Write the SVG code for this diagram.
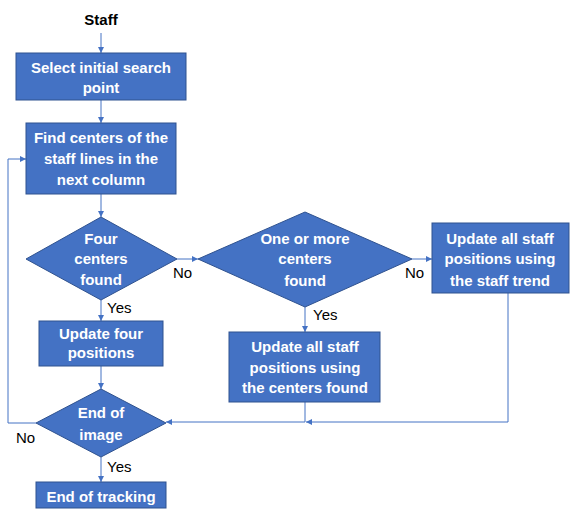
<svg xmlns="http://www.w3.org/2000/svg" width="573" height="510" viewBox="0 0 573 510">
<defs>
<style>
.box{fill:#4472C4;stroke:#2F528F;stroke-width:1}
.t{font-family:"Liberation Sans",Arial,sans-serif;font-weight:bold;font-size:15px;fill:#FFFFFF;text-anchor:middle}
.lbl{font-family:"Liberation Sans",Arial,sans-serif;font-size:15px;fill:#000000}
.c{fill:none;stroke:#4472C4;stroke-width:1}
</style>
<marker id="ah" markerUnits="userSpaceOnUse" markerWidth="7" markerHeight="7" refX="6" refY="3" orient="auto">
<path d="M0,0 L6,3 L0,6 z" fill="#4472C4"/>
</marker>
</defs>
<rect width="573" height="510" fill="#FFFFFF"/>
<g id="connectors">
<path class="c" d="M101,33 V53" marker-end="url(#ah)"/>
<path class="c" d="M101,100 V123" marker-end="url(#ah)"/>
<path class="c" d="M101,194 V217" marker-end="url(#ah)"/>
<path class="c" d="M177,259 H198" marker-end="url(#ah)"/>
<path class="c" d="M412,259 H432" marker-end="url(#ah)"/>
<path class="c" d="M101,300 V321" marker-end="url(#ah)"/>
<path class="c" d="M305,307 V332" marker-end="url(#ah)"/>
<path class="c" d="M101,366 V389" marker-end="url(#ah)"/>
<path class="c" d="M508,293 V422 H306" marker-end="url(#ah)"/>
<path class="c" d="M305,402 V422 H166" marker-end="url(#ah)"/>
<path class="c" d="M36,423 H8 V159 H26" marker-end="url(#ah)"/>
<path class="c" d="M101,457 V482" marker-end="url(#ah)"/>
</g>
<g id="labels">
<text class="lbl" x="173" y="278">No</text>
<text class="lbl" x="405" y="278">No</text>
<text class="lbl" x="107" y="313">Yes</text>
<text class="lbl" x="313" y="320">Yes</text>
<text class="lbl" x="16" y="443">No</text>
<text class="lbl" x="107" y="472">Yes</text>
</g>
<g id="staff">
<text x="101" y="25" style="font-family:'Liberation Sans',Arial,sans-serif;font-weight:bold;font-size:15px;fill:#000;text-anchor:middle">Staff</text>
</g>
<g id="select">
<rect class="box" x="16" y="53" width="170" height="47"/>
<text class="t" x="101" y="73">Select initial search</text>
<text class="t" x="101" y="93">point</text>
</g>
<g id="find">
<rect class="box" x="26" y="123" width="150" height="71"/>
<text class="t" x="101" y="143">Find centers of the</text>
<text class="t" x="101" y="164">staff lines in the</text>
<text class="t" x="101" y="185">next column</text>
</g>
<g id="four">
<polygon class="box" points="101,217 177,259 101,300 26,259"/>
<text class="t" x="101" y="244">Four</text>
<text class="t" x="101" y="264">centers</text>
<text class="t" x="101" y="285">found</text>
</g>
<g id="onemore">
<polygon class="box" points="305,212 412,259 305,307 198,259"/>
<text class="t" x="305" y="244">One or more</text>
<text class="t" x="305" y="264">centers</text>
<text class="t" x="305" y="286">found</text>
</g>
<g id="trend">
<rect class="box" x="432" y="223" width="137" height="70"/>
<text class="t" x="500" y="244">Update all staff</text>
<text class="t" x="500" y="264">positions using</text>
<text class="t" x="500" y="286">the staff trend</text>
</g>
<g id="updatefour">
<rect class="box" x="39" y="321" width="124" height="45"/>
<text class="t" x="101" y="339">Update four</text>
<text class="t" x="101" y="358">positions</text>
</g>
<g id="centersfound">
<rect class="box" x="229" y="332" width="151" height="70"/>
<text class="t" x="305" y="352">Update all staff</text>
<text class="t" x="305" y="373">positions using</text>
<text class="t" x="305" y="393">the centers found</text>
</g>
<g id="endimage">
<polygon class="box" points="101,389 166,423 101,457 36,423"/>
<text class="t" x="101" y="418">End of</text>
<text class="t" x="101" y="440">image</text>
</g>
<g id="endtracking">
<rect class="box" x="36" y="482" width="130" height="26"/>
<text class="t" x="101" y="502">End of tracking</text>
</g>
</svg>
